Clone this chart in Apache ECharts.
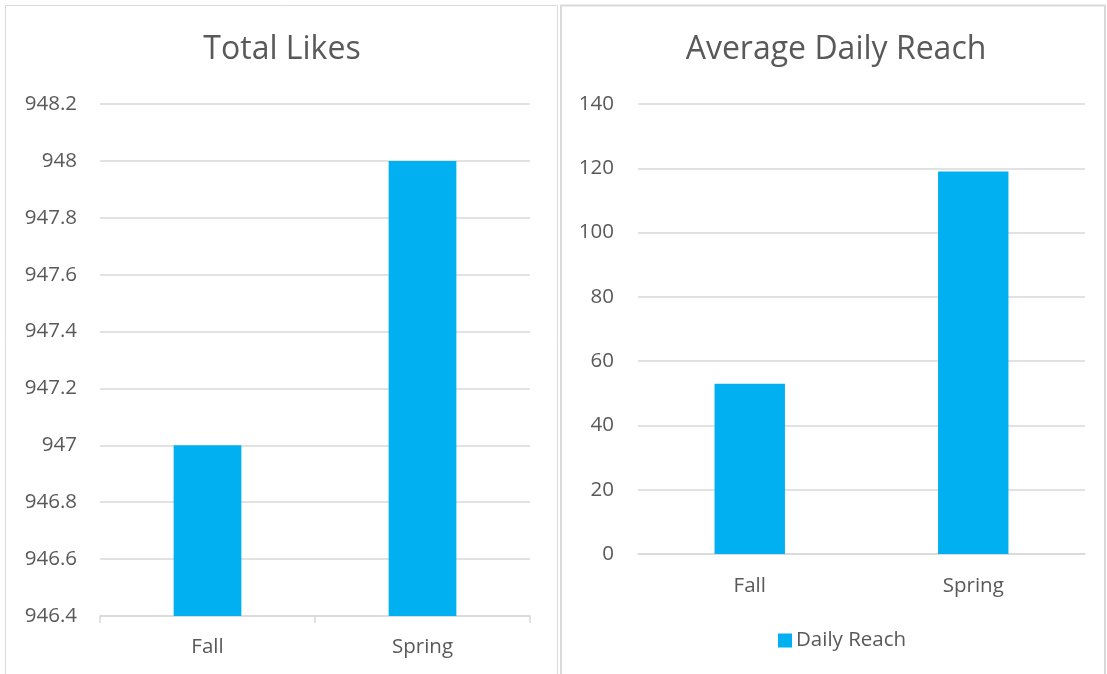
<!DOCTYPE html>
<html>
<head>
<meta charset="utf-8">
<script src="https://cdn.jsdelivr.net/npm/echarts@6/dist/echarts.min.js"></script>
<style>
html,body{margin:0;padding:0;background:#fff;}
#c{width:1107px;height:674px;}
</style>
</head>
<body>
<div id="c"></div>
<script>
const categories = ['Fall', 'Spring'];
const totalLikes = [947, 948];
const dailyReach = [53, 119];
const likesTitle = 'Total Likes';
const reachTitle = 'Average Daily Reach';
const reachSeriesName = 'Daily Reach';

const FONT = '"Open Sans", "Noto Sans", sans-serif';
const TXT = '#595959';
const GRID = '#d9d9d9';
const BAR = '#00b0f0';
const LBL = 20.5;

const chart = echarts.init(document.getElementById('c'), null, {renderer: 'canvas'});
chart.setOption({
  animation: false,
  textStyle: {fontFamily: FONT},
  graphic: [
    {type: 'rect', shape: {x: 5.5, y: 5.5, width: 552, height: 700}, style: {fill: 'none', stroke: GRID, lineWidth: 1}, z: -1},
    {type: 'rect', shape: {x: 561, y: 5.5, width: 544, height: 700}, style: {fill: 'none', stroke: GRID, lineWidth: 2}, z: -1}
  ],
  title: [
    {text: likesTitle, left: 277, top: 29, textAlign: 'center',
     textStyle: {fontFamily: FONT, fontSize: 32, fontWeight: 'normal', color: TXT}},
    {text: reachTitle, left: 831, top: 29, textAlign: 'center',
     textStyle: {fontFamily: FONT, fontSize: 32, fontWeight: 'normal', color: TXT}}
  ],
  legend: {
    data: [reachSeriesName],
    left: 773, top: 625,
    itemWidth: 14, itemHeight: 14, itemGap: 4,
    icon: 'rect',
    textStyle: {fontFamily: FONT, fontSize: LBL, color: TXT, padding: [0, 0, 0, -1]}
  },
  grid: [
    {left: 100, right: 577, top: 104, height: 512, containLabel: false},
    {left: 638, right: 22, top: 104, height: 450, containLabel: false}
  ],
  xAxis: [
    {type: 'category', gridIndex: 0, data: categories,
     axisLine: {show: true, lineStyle: {color: GRID, width: 1.5}},
     axisTick: {show: true, length: 7, lineStyle: {color: GRID, width: 1.5}},
     axisLabel: {fontFamily: FONT, fontSize: LBL, color: TXT, margin: 21}},
    {type: 'category', gridIndex: 1, data: categories,
     axisLine: {show: true, lineStyle: {color: GRID, width: 1.5}},
     axisTick: {show: false},
     axisLabel: {fontFamily: FONT, fontSize: LBL, color: TXT, margin: 22}}
  ],
  yAxis: [
    {type: 'value', gridIndex: 0, min: 946.4, max: 948.2, interval: 0.2,
     axisLine: {show: false}, axisTick: {show: false},
     splitLine: {lineStyle: {color: GRID, width: 1.5}},
     axisLabel: {fontFamily: FONT, fontSize: LBL, color: TXT, margin: 23,
       formatter: v => String(+v.toFixed(1))}},
    {type: 'value', gridIndex: 1, min: 0, max: 140, interval: 20,
     axisLine: {show: false}, axisTick: {show: false},
     splitLine: {lineStyle: {color: GRID, width: 1.5}},
     axisLabel: {fontFamily: FONT, fontSize: LBL, color: TXT, margin: 24}}
  ],
  series: [
    {type: 'bar', name: likesTitle, xAxisIndex: 0, yAxisIndex: 0, data: totalLikes,
     barWidth: '31.5%', itemStyle: {color: BAR}},
    {type: 'bar', name: reachSeriesName, xAxisIndex: 1, yAxisIndex: 1, data: dailyReach,
     barWidth: '31.5%', itemStyle: {color: BAR}}
  ]
});
</script>
</body>
</html>
